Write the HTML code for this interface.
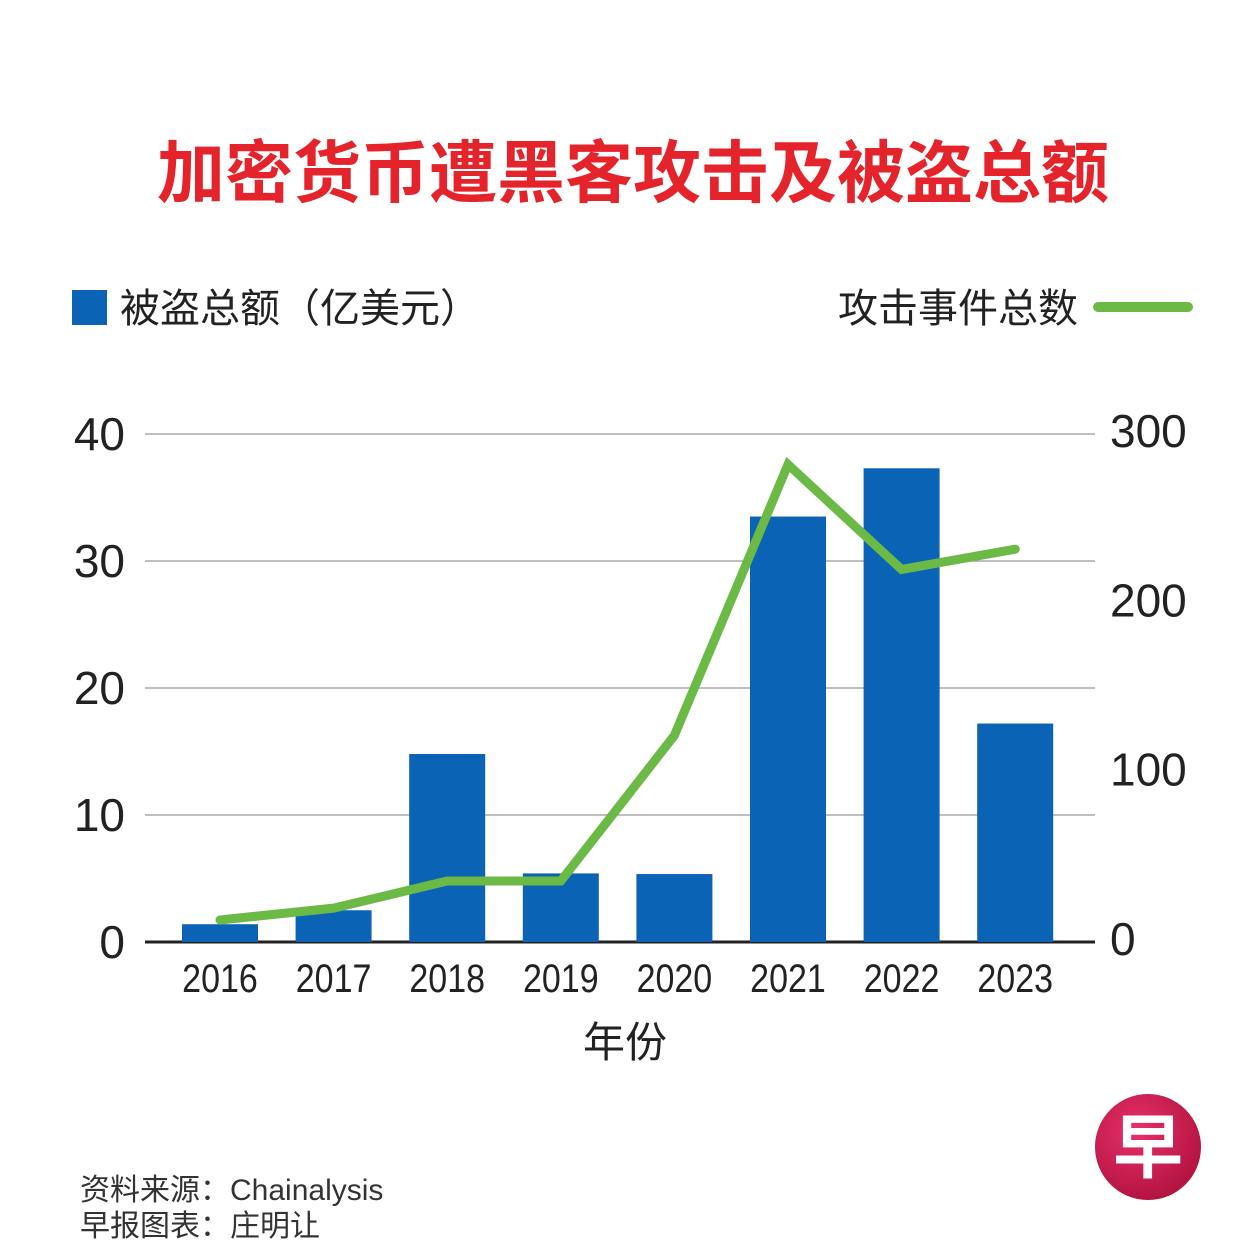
<!DOCTYPE html>
<html><head><meta charset="utf-8"><style>
body{margin:0;background:#fff;}
svg text{font-family:"Liberation Sans","Noto Sans CJK SC",sans-serif;}
</style></head><body>
<svg width="1251" height="1251" viewBox="0 0 1251 1251">
<text x="633" y="197" text-anchor="middle" font-size="68" font-weight="bold" fill="#e4232b">加密货币遭黑客攻击及被盗总额</text>
<rect x="72" y="290" width="35" height="35" fill="#0b63b5"/>
<text x="120" y="322" font-size="40" fill="#222">被盗总额（亿美元）</text>
<text x="1078" y="322" text-anchor="end" font-size="40" fill="#222">攻击事件总数</text>
<line x1="1098" y1="307" x2="1188" y2="307" stroke="#6bba45" stroke-width="10" stroke-linecap="round"/>
<g id="grid"></g><g id="bars"></g><g id="line"></g><g id="labels"></g>
<text x="625" y="1057" text-anchor="middle" font-size="42" fill="#222">年份</text>
<text x="80" y="1200" font-size="30" fill="#333">资料来源：Chainalysis</text>
<text x="80" y="1236" font-size="30" fill="#333">早报图表：庄明让</text>
<defs><radialGradient id="lg" cx="0.4" cy="0.35" r="0.7"><stop offset="0" stop-color="#e8306a"/><stop offset="1" stop-color="#b0123e"/></radialGradient></defs>
<circle cx="1148" cy="1147" r="53" fill="url(#lg)"/>
<text x="1148" y="1172" text-anchor="middle" font-size="70" font-weight="bold" fill="#fff">早</text>
</svg>
<script>
const years=["2016","2017","2018","2019","2020","2021","2022","2023"];
const stolen=[1.4,2.5,14.8,5.4,5.35,33.5,37.3,17.2];
const attacks=[13,20,36,36,122,282,220,232];
const leftTicks=[0,10,20,30,40];
const rightTicks=[0,100,200,300];
const NS="http://www.w3.org/2000/svg";
const y0=942,yTop=434,xL=145,xR=1095;
const yL=v=>y0-(v/40)*(y0-yTop);
const yR=v=>y0-(v/300)*(y0-yTop);
const xC=i=>220+i*113.6;
function mk(t,a,p){const e=document.createElementNS(NS,t);for(const k in a)e.setAttribute(k,a[k]);document.getElementById(p).appendChild(e);return e;}
leftTicks.forEach(v=>{
 const l=mk('line',{x1:xL,x2:xR,y1:yL(v),y2:yL(v),stroke:v?'#999':'#222','stroke-width':v?1.2:3},'grid');
 
 
 const t=mk('text',{x:125,y:yL(v)+16,'text-anchor':'end','font-size':46,fill:'#222'},'labels');
 t.textContent=v;
 
 
});
rightTicks.forEach(v=>{
 const t=mk('text',{x:1110,y:yR(v)+13,'font-size':46,fill:'#222'},'labels');
 t.textContent=v;
 
 
});
years.forEach((yr,i)=>{
 const b=mk('rect',{x:xC(i)-38,y:yL(stolen[i]),width:76,height:y0-yL(stolen[i]),fill:'#0b63b5'},'bars');
 
 
 const t=mk('text',{x:xC(i),y:992,'text-anchor':'middle','font-size':40,fill:'#222',transform:`translate(${xC(i)},0) scale(0.85,1) translate(${-xC(i)},0)`},'labels');
 t.textContent=yr;
 
 
});
const pl=mk('polyline',{points:attacks.map((v,i)=>xC(i)+','+yR(v)).join(' '),fill:'none',stroke:'#6bba45','stroke-width':9,'stroke-linejoin':'miter','stroke-linecap':'round'},'line');


</script>
</body></html>
